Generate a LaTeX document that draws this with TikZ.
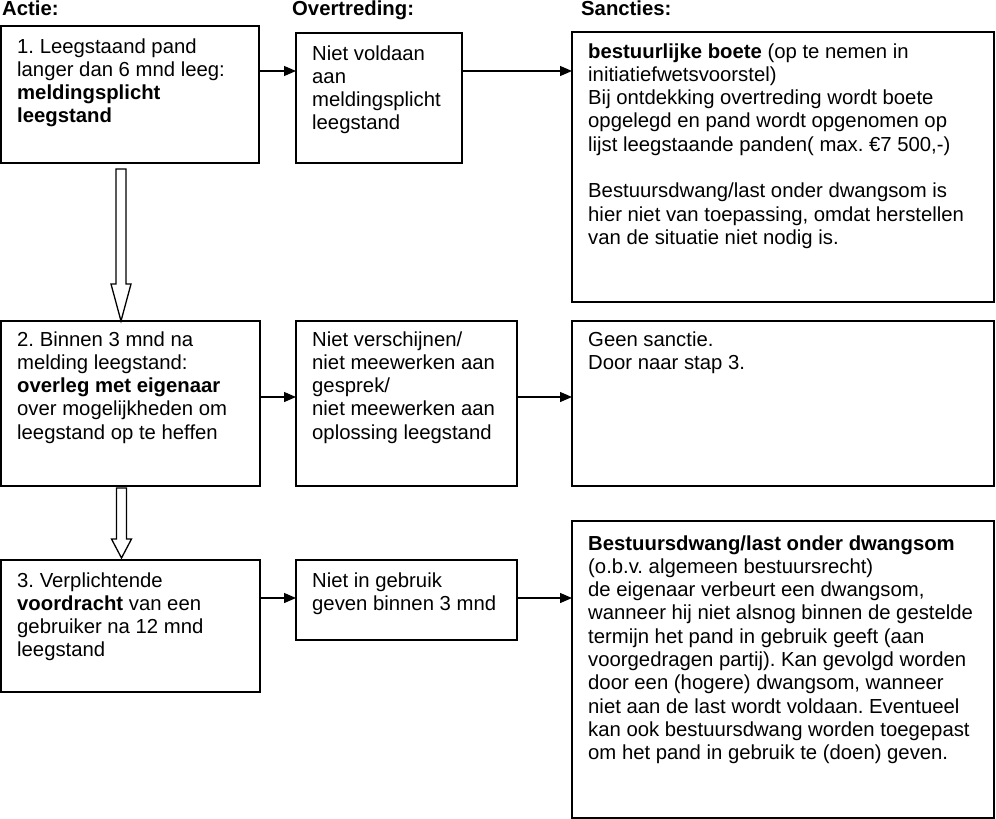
\documentclass[tikz,border=0pt]{standalone}
\usepackage{fontspec}
\setmainfont{Liberation Sans}
\usetikzlibrary{arrows.meta,calc}
\newcommand\boxtext[1]{\parbox[t]{410pt}{#1}}
\frenchspacing
\begin{document}
\begin{tikzpicture}[x=1pt,y=-1pt,
  bx/.style={draw, line width=1.4pt, anchor=north west, inner sep=0pt, outer sep=0pt},
  txt/.style={anchor=base west, inner sep=0pt, font=\fontsize{20.3}{23.3}\selectfont},
  hdr/.style={anchor=base west, inner sep=0pt, font=\fontsize{20.3}{23.3}\selectfont\bfseries},
  arr/.style={line width=1.3pt, -{Triangle[length=12pt,width=10pt]}},
  hollow/.style={draw, line width=1.3pt, fill=white, line join=miter}]
\useasboundingbox (0,0) rectangle (996,819);
% headers
\node[hdr] (h1) at (2,16) {Actie:};
\node[hdr] (h2) at (292,16) {Overtreding:};
\node[hdr] (h3) at (581,16) {Sancties:};
% boxes
\node[bx, minimum width=258pt, minimum height=137pt] (a1) at (1,26) {};
\node[bx, minimum width=166pt, minimum height=130pt] (o1) at (296,33) {};
\node[bx, minimum width=422pt, minimum height=270pt] (s1) at (572,32) {};
\node[bx, minimum width=259pt, minimum height=165pt] (a2) at (1,321) {};
\node[bx, minimum width=221pt, minimum height=165pt] (o2) at (296,321) {};
\node[bx, minimum width=422pt, minimum height=165pt] (s2) at (572,321) {};
\node[bx, minimum width=259pt, minimum height=132pt] (a3) at (1,560) {};
\node[bx, minimum width=221pt, minimum height=80pt] (o3) at (296,560) {};
\node[bx, minimum width=422pt, minimum height=297pt] (s3) at (572,521) {};
% texts
\node[txt] (ta1) at (17,53) {\boxtext{1. Leegstaand pand\\langer dan 6 mnd leeg:\\\textbf{meldingsplicht}\\\textbf{leegstand}}};
\node[txt] (to1) at (312,60) {\boxtext{Niet voldaan\\aan\\meldingsplicht\\leegstand}};
\node[txt] (ts1) at (588,58) {\boxtext{\textbf{bestuurlijke boete} (op te nemen in\\initiatiefwetsvoorstel)\\Bij ontdekking overtreding wordt boete\\opgelegd en pand wordt opgenomen op\\lijst leegstaande panden( max. €7 500,-)\\[23.3pt]Bestuursdwang/last onder dwangsom is\\hier niet van toepassing, omdat herstellen\\van de situatie niet nodig is.}};
\node[txt] (ta2) at (17,346) {\boxtext{2. Binnen 3 mnd na\\melding leegstand:\\\textbf{overleg met eigenaar}\\over mogelijkheden om\\leegstand op te heffen}};
\node[txt] (to2) at (312,346) {\boxtext{Niet verschijnen/\\niet meewerken aan\\gesprek/\\niet meewerken aan\\oplossing leegstand}};
\node[txt] (ts2) at (588,346) {\boxtext{Geen sanctie.\\Door naar stap 3.}};
\node[txt] (ta3) at (17,587) {\boxtext{3. Verplichtende\\\textbf{voordracht} van een\\gebruiker na 12 mnd\\leegstand}};
\node[txt] (to3) at (312,587) {\boxtext{Niet in gebruik\\geven binnen 3 mnd}};
\node[txt] (ts3) at (588,550) {\boxtext{\textbf{Bestuursdwang/last onder dwangsom}\\(o.b.v. algemeen bestuursrecht)\\de eigenaar verbeurt een dwangsom,\\wanneer hij niet alsnog binnen de gestelde\\termijn het pand in gebruik geeft (aan\\voorgedragen partij). Kan gevolgd worden\\door een (hogere) dwangsom, wanneer\\niet aan de last wordt voldaan. Eventueel\\kan ook bestuursdwang worden toegepast\\om het pand in gebruik te (doen) geven.}};
% horizontal connectors
\coordinate (c1) at ($(a1.north east)+(0,45)$);
\coordinate (c2) at ($(a2.north east)+(0,76)$);
\coordinate (c3) at ($(a3.north east)+(0,38)$);
\draw[arr] (c1) -- (c1 -| o1.west);
\draw[arr] (c1 -| o1.east) -- (c1 -| s1.west);
\draw[arr] (c2) -- (c2 -| o2.west);
\draw[arr] (c2 -| o2.east) -- (c2 -| s2.west);
\draw[arr] (c3) -- (c3 -| o3.west);
\draw[arr] (c3 -| o3.east) -- (c3 -| s3.west);
% hollow arrows
\coordinate (v1) at ($(a1.south)+(-9,6)$);
\coordinate (w1) at (v1 |- a2.north);
\draw[hollow] ($(v1)+(-5,0)$) -- ($(v1)+(5,0)$) -- ($(w1)+(5,-37)$) -- ($(w1)+(10,-37)$) -- (w1) -- ($(w1)+(-10,-37)$) -- ($(w1)+(-5,-37)$) -- cycle;
\coordinate (v2) at ($(a2.south)+(-9,2)$);
\coordinate (w2) at ($(v2 |- a3.north)+(0,-2)$);
\draw[hollow] ($(v2)+(-5,0)$) -- ($(v2)+(5,0)$) -- ($(w2)+(5,-19)$) -- ($(w2)+(10,-19)$) -- (w2) -- ($(w2)+(-10,-19)$) -- ($(w2)+(-5,-19)$) -- cycle;
\end{tikzpicture}
\end{document}
